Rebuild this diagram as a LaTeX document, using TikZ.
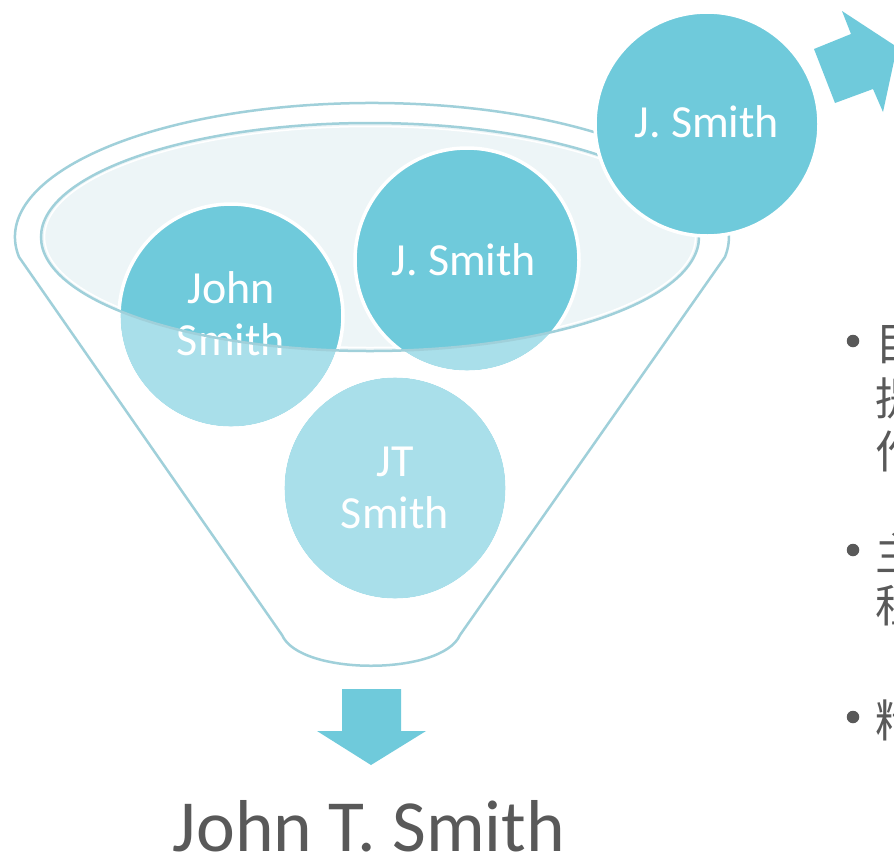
\documentclass[tikz,border=0pt]{standalone}
\usepackage{fontspec}
\setmainfont{Carlito}
\newfontfamily\cjk{Noto Sans CJK SC}
\definecolor{tealdark}{HTML}{6FCADB}
\definecolor{teallight}{HTML}{A9DFEA}
\definecolor{rimcol}{HTML}{A0D0DA}
\definecolor{ellfill}{HTML}{EDF5F7}
\definecolor{txtgray}{HTML}{595959}
\tikzset{
  rimline/.style={draw=rimcol, line width=2.5pt, line join=round},
  ball/.style={circle, minimum size=224pt, inner sep=0pt, draw=white, line width=3.5pt, fill=tealdark},
  balltext/.style={text=white, inner sep=0pt, anchor=base, font=\fontsize{46}{52}\selectfont},
  arrowshape/.style={fill=tealdark},
  bulletdot/.style={circle, fill=txtgray, minimum size=12.5pt, inner sep=0pt},
  cjktext/.style={text=txtgray, inner sep=0pt, anchor=west, font=\cjk\fontsize{45}{52}\selectfont}
}
\begin{document}
\begin{tikzpicture}[x=1pt,y=-1pt]
\useasboundingbox (0,0) rectangle (894,855);
\clip (0,0) rectangle (894,855);
\fill[white] (0,0) rectangle (894,855);
% funnel outline
\draw[rimline] (19,257) arc[start angle=171.4, end angle=368.6, x radius=357, y radius=134]
  -- (460,635) .. controls (442,676) and (300,676) .. (282,635) -- cycle;
% inner ellipse fill
\fill[ellfill] (370,237) ellipse[x radius=329, y radius=114];
\draw[white, line width=1.5pt] (370,237) ellipse[x radius=325.5, y radius=110.5];
% circles inside funnel
\node[ball] (c1) at (231,316) {};
\node[ball] (c2) at (467,260) {};
\node[ball] (c3) at (395,488) {};
\begin{scope}[even odd rule]
  \clip (-10,-10) rectangle (904,865) (370,237) ellipse[x radius=329, y radius=114];
  \fill[teallight] (c1.center) circle (110.3);
  \fill[teallight] (c2.center) circle (110.3);
  \fill[teallight] (c3.center) circle (110.3);
\end{scope}
\node[balltext] (t1a) at (231,303) {John};
\node[balltext] (t1b) at (231,355) {Smith};
\node[balltext] (t2) at (464,275) {J. Smith};
\node[balltext] (t3a) at (395,476) {JT};
\node[balltext] (t3b) at (395,528) {Smith};
% inner ellipse rim on top
\draw[rimcol, line width=2.5pt] (370,237) ellipse[x radius=329, y radius=114];
% top-right circle
\node[ball] (c4) at (707,124) {};
\node[balltext] (t4) at (707,137) {J. Smith};
% arrows
\fill[arrowshape] (814,49) -- (851,34) -- (842,11) -- (897,47) -- (883,112) -- (873,89) -- (835,103) -- cycle;
\fill[arrowshape] (342,689) -- (401,689) -- (401,731) -- (426,731) -- (371,765) -- (317,731) -- (342,731) -- cycle;
% result text
\node[text=txtgray, inner sep=0pt, anchor=base, font=\fontsize{73.5}{80}\selectfont] (res) at (369,851) {John T. Smith};
% bullets (clipped at right edge)
\node[bulletdot] (b1) at (853,341) {};
\node[cjktext] (l1a) at (875,345) {目};
\node[cjktext] (l1b) at (875,398) {提};
\node[cjktext] (l1c) at (875,451) {作};
\node[bulletdot] (b2) at (853,550) {};
\node[cjktext] (l2a) at (875,553) {主};
\node[cjktext] (l2b) at (875,606) {程};
\node[bulletdot] (b3) at (853,717) {};
\node[cjktext] (l3a) at (875,720) {精};
\end{tikzpicture}
\end{document}
